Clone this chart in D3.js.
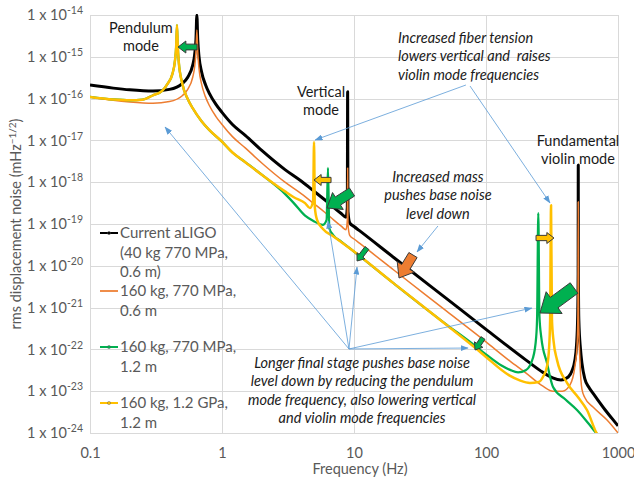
<!DOCTYPE html>
<html>
<head>
<meta charset="utf-8">
<script src="https://cdn.jsdelivr.net/npm/d3@7"></script>
<style>
  body { margin: 0; background: #fff; }
  svg text { font-family: Lato, "Open Sans", sans-serif; }
</style>
</head>
<body>
<svg id="chart" width="634" height="477"></svg>
<script>
// ---- data ----
const xTicks = [0.1, 1, 10, 100, 1000];
const xTickLabels = ["0.1", "1", "10", "100", "1000"];
const yTicks = [1e-14, 1e-15, 1e-16, 1e-17, 1e-18, 1e-19, 1e-20, 1e-21, 1e-22, 1e-23, 1e-24];
const yExponents = ["-14", "-15", "-16", "-17", "-18", "-19", "-20", "-21", "-22", "-23", "-24"];

const seriesNames = [
  ["Current aLIGO", "(40 kg 770 MPa,", "0.6 m)"],
  ["160 kg, 770 MPa,", "0.6 m"],
  ["160 kg, 770 MPa,", "1.2 m"],
  ["160 kg, 1.2 GPa,", "1.2 m"]
];

// [frequency Hz, rms displacement noise]
const currentAligo = [
  [0.1, 2.11e-16], [0.15, 1.78e-16], [0.2, 1.62e-16], [0.3, 1.51e-16], [0.4, 1.66e-16],
  [0.5, 2.29e-16], [0.55, 3.24e-16], [0.6, 6.31e-16], [0.62, 1.10e-15], [0.635, 2.63e-15],
  [0.645, 1.0e-14], [0.655, 2.57e-15], [0.67, 1.0e-15], [0.7, 4.37e-16], [0.75, 2.14e-16],
  [0.8, 1.35e-16], [0.9, 7.24e-17], [1, 4.68e-17], [1.2, 2.40e-17], [1.5, 1.32e-17],
  [2, 5.75e-18], [3, 2.0e-18], [4, 1.05e-18], [5, 6.03e-19], [6, 3.80e-19], [7, 2.51e-19],
  [8, 1.78e-19], [8.7, 1.45e-19], [8.9, 2.51e-19], [8.95, 1.45e-16], [9.0, 2.0e-19],
  [9.3, 1.05e-19], [10, 8.71e-20], [11, 6.92e-20], [20, 1.58e-20], [50, 1.66e-21],
  [100, 3.02e-22], [200, 5.62e-23], [270, 2.82e-23], [320, 2.09e-23], [370, 1.86e-23],
  [420, 2.19e-23], [450, 3.16e-23], [470, 5.25e-23], [485, 1.26e-22], [495, 6.31e-22],
  [499, 6.31e-21], [500, 2.57e-18], [501, 6.31e-21], [505, 5.01e-22], [520, 1.0e-22],
  [533, 4.68e-23], [560, 2.0e-23], [600, 1.26e-23], [650, 8.71e-24], [700, 6.31e-24],
  [800, 3.55e-24], [900, 2.24e-24], [1000, 1.48e-24]
];

const mass160Short = [
  [0.1, 1.10e-16], [0.15, 9.12e-17], [0.2, 8.32e-17], [0.3, 7.76e-17], [0.4, 8.51e-17],
  [0.5, 1.17e-16], [0.55, 1.66e-16], [0.6, 3.24e-16], [0.62, 5.62e-16], [0.635, 1.35e-15],
  [0.645, 4.37e-15], [0.655, 1.32e-15], [0.67, 5.13e-16], [0.7, 2.24e-16], [0.75, 1.10e-16],
  [0.8, 6.92e-17], [0.9, 3.72e-17], [1, 2.40e-17], [1.2, 1.23e-17], [1.5, 6.61e-18],
  [2, 2.88e-18], [3, 1.0e-18], [4, 5.25e-19], [5, 3.02e-19], [6, 1.91e-19], [7, 1.26e-19],
  [8, 8.91e-20], [8.7, 7.24e-20], [8.9, 1.26e-19], [8.95, 2.19e-18], [9.0, 1.0e-19],
  [9.3, 5.25e-20], [10, 4.37e-20], [11, 3.47e-20], [20, 7.94e-21], [50, 8.32e-22],
  [100, 1.51e-22], [152, 5.25e-23], [200, 2.75e-23], [270, 1.32e-23], [322, 1.0e-23],
  [380, 1.0e-23], [433, 1.41e-23], [472, 3.98e-23], [490, 1.26e-22], [497, 7.94e-22],
  [500, 3.39e-19], [503, 6.31e-22], [515, 5.01e-23], [533, 1.12e-23], [560, 7.08e-24],
  [647, 4.17e-24], [826, 2.04e-24], [1000, 1.0e-24]
];

const mass160Long = [
  [0.1, 1.10e-16], [0.15, 9.55e-17], [0.2, 9.12e-17], [0.25, 9.44e-17], [0.3, 1.20e-16],
  [0.35, 1.51e-16], [0.39, 2.34e-16], [0.42, 3.80e-16], [0.44, 7.94e-16], [0.45, 1.86e-15],
  [0.456, 5.75e-15], [0.462, 1.86e-15], [0.47, 7.76e-16], [0.5, 2.29e-16], [0.55, 9.77e-17],
  [0.6, 5.89e-17], [0.7, 2.88e-17], [0.8, 1.78e-17], [1, 9.33e-18], [1.2, 5.13e-18],
  [1.5, 3.02e-18], [2, 1.51e-18], [3, 5.25e-19], [3.5, 3.16e-19], [4.26, 1.58e-19],
  [5, 1.15e-19], [5.8, 9.55e-20], [6.2, 1.26e-19], [6.35, 2.19e-18], [6.5, 7.94e-20],
  [6.93, 5.50e-20], [8, 3.80e-20], [10, 2.19e-20], [20, 3.80e-21], [50, 3.98e-22],
  [80, 1.32e-22], [100, 7.59e-23], [130, 4.17e-23], [152, 3.24e-23], [175, 2.82e-23],
  [200, 3.16e-23], [227, 6.31e-23], [240, 2.0e-22], [244, 6.31e-22], [249, 1.82e-19],
  [254, 6.31e-22], [262, 2.0e-22], [290, 4.68e-23], [322, 1.26e-23], [400, 6.31e-24],
  [489, 3.55e-24], [600, 1.66e-24], [693, 9.55e-25], [720, 8.5e-25]
];

const mass160LongStrong = [
  [0.1, 1.10e-16], [0.15, 9.55e-17], [0.2, 9.12e-17], [0.25, 9.44e-17], [0.3, 1.20e-16],
  [0.35, 1.51e-16], [0.39, 2.34e-16], [0.42, 3.80e-16], [0.44, 7.94e-16], [0.45, 1.86e-15],
  [0.456, 5.75e-15], [0.462, 1.86e-15], [0.47, 7.76e-16], [0.5, 2.29e-16], [0.55, 9.77e-17],
  [0.6, 5.89e-17], [0.7, 2.88e-17], [0.8, 1.78e-17], [1, 9.33e-18], [1.2, 5.13e-18],
  [1.5, 3.02e-18], [2, 1.51e-18], [3, 6.03e-19], [3.5, 4.37e-19], [4.26, 3.16e-19],
  [4.64, 2.40e-19], [4.9, 3.55e-19], [4.98, 9.12e-18], [5.05, 2.51e-19], [5.25, 1.26e-19],
  [5.82, 7.59e-20], [7, 5.01e-20], [10, 2.19e-20], [20, 3.80e-21], [50, 3.89e-22],
  [85, 1.02e-22], [100, 6.61e-23], [150, 2.40e-23], [180, 1.82e-23], [215, 1.58e-23],
  [250, 1.66e-23], [270, 2.19e-23], [290, 3.98e-23], [300, 1.0e-22], [306, 5.01e-22],
  [311, 2.82e-19], [316, 5.01e-22], [325, 1.58e-22], [345, 5.62e-23], [411, 1.58e-23],
  [500, 7.08e-24], [582, 3.55e-24], [693, 9.55e-25], [720, 8.0e-25]
];

const allSeries = [currentAligo, mass160Short, mass160Long, mass160LongStrong];
const colors = ["#000000", "#ED7D31", "#00B050", "#FFC000"];
const widths = [3, 1.5, 2.25, 2.5];

// ---- layout ----
const svg = d3.select("#chart");
const plotLeft = 90, plotRight = 618, plotTop = 15, plotBottom = 433;

const x = d3.scaleLog().domain([0.1, 1000]).range([plotLeft, plotRight]);
const y = d3.scaleLog().domain([1e-24, 1e-14]).range([plotBottom, plotTop]);

// position given as [log10 f, log10 noise]
const at = (p) => [x(10 ** p[0]), y(10 ** p[1])];

const defs = svg.append("defs");
defs.append("clipPath").attr("id", "plotclip")
  .append("rect").attr("x", plotLeft).attr("y", plotTop - 1)
  .attr("width", plotRight - plotLeft).attr("height", plotBottom - plotTop + 1);

defs.append("marker")
  .attr("id", "tip").attr("markerUnits", "userSpaceOnUse")
  .attr("markerWidth", 8).attr("markerHeight", 6)
  .attr("refX", 7.5).attr("refY", 3).attr("orient", "auto")
  .append("path").attr("d", "M0,0 L8,3 L0,6 z").attr("fill", "#5B9BD5");

// gridlines
const grid = svg.append("g").attr("stroke", "#d9d9d9").attr("stroke-width", 1);
yTicks.forEach(t => {
  grid.append("line").attr("x1", plotLeft).attr("x2", plotRight)
    .attr("y1", Math.round(y(t)) + 0.5).attr("y2", Math.round(y(t)) + 0.5);
});
xTicks.forEach(t => {
  grid.append("line").attr("y1", plotTop).attr("y2", plotBottom)
    .attr("x1", Math.round(x(t)) + 0.5).attr("x2", Math.round(x(t)) + 0.5);
});

// axes
const xAxis = svg.append("g")
  .attr("transform", `translate(0,${plotBottom})`)
  .call(d3.axisBottom(x).tickValues(xTicks).tickSize(0).tickPadding(15)
    .tickFormat((d, i) => xTickLabels[i]));
xAxis.select(".domain").remove();
xAxis.selectAll("text").attr("font-size", 14.5).attr("fill", "#595959")
  .attr("font-family", "Lato, sans-serif");

const yAxis = svg.append("g")
  .attr("transform", `translate(${plotLeft},0)`)
  .call(d3.axisLeft(y).tickValues(yTicks).tickSize(0).tickPadding(7).tickFormat(() => ""));
yAxis.select(".domain").remove();
yAxis.selectAll(".tick text").each(function (d, i) {
  const t = d3.select(this).attr("font-size", 14.5).attr("fill", "#595959")
    .attr("font-family", "Lato, sans-serif");
  t.append("tspan").text("1 x 10");
  t.append("tspan").attr("dy", -6).attr("font-size", 10.5).text(yExponents[i]);
});

svg.append("text")
  .attr("x", (plotLeft + plotRight) / 2 + 6).attr("y", 474)
  .attr("text-anchor", "middle").attr("font-size", 14.5).attr("fill", "#595959")
  .text("Frequency (Hz)");

const yTitle = svg.append("text")
  .attr("transform", `translate(21,${(plotTop + plotBottom) / 2}) rotate(-90)`)
  .attr("text-anchor", "middle").attr("font-size", 14.5).attr("fill", "#595959");
yTitle.append("tspan").text("rms displacement noise (mHz");
yTitle.append("tspan").attr("dy", -5).attr("font-size", 10).text("\u22121/2");
yTitle.append("tspan").attr("dy", 5).text(")");

// curves
const line = d3.line()
  .x(d => x(d[0]))
  .y(d => y(d[1]))
  .curve(d3.curveMonotoneX);

const plot = svg.append("g").attr("clip-path", "url(#plotclip)");
allSeries.forEach((s, i) => {
  plot.append("path")
    .attr("d", line(s))
    .attr("fill", "none")
    .attr("stroke", colors[i])
    .attr("stroke-width", widths[i])
    .attr("stroke-linejoin", "round");
});

// legend
const legendY = [233, 291, 347, 403];
const legend = svg.append("g");
seriesNames.forEach((lines, i) => {
  legend.append("line").attr("x1", 100).attr("x2", 118)
    .attr("y1", legendY[i]).attr("y2", legendY[i])
    .attr("stroke", colors[i]).attr("stroke-width", i === 1 ? 1.75 : 2);
  if (i !== 1) {
    legend.append("circle").attr("cx", 109).attr("cy", legendY[i]).attr("r", 1.6)
      .attr("fill", i === 0 ? "#000" : colors[i]).attr("stroke", "#555").attr("stroke-width", 0.4);
  }
  lines.forEach((l, j) => {
    legend.append("text").attr("x", 120).attr("y", legendY[i] + j * 19.5)
      .attr("dy", "0.35em").attr("font-size", 15).attr("fill", "#595959").text(l);
  });
});

// annotations
const textNotes = [
  { lines: ["Pendulum", "mode"], pos: [-0.614, -14.311], italic: false, anchor: "middle" },
  { lines: ["Vertical", "mode"], pos: [0.75, -15.842], italic: false, anchor: "middle" },
  { lines: ["Increased fiber tension", "lowers vertical and  raises", "violin mode frequencies"],
    pos: [1.333, -14.55], italic: true, anchor: "start" },
  { lines: ["Increased mass", "pushes base noise", "level down"], pos: [1.636, -17.876], italic: true, anchor: "middle" },
  { lines: ["Fundamental", "violin mode"], pos: [2.697, -17.014], italic: false, anchor: "middle" },
  { lines: ["Longer final stage pushes base noise", "level down by reducing the pendulum",
    "mode frequency, also lowering vertical", "and violin mode frequencies"],
    pos: [1.061, -22.325], italic: true, anchor: "middle" }
];

const pointerLines = [
  [[1.848, -15.675], [0.705, -16.99]],
  [[1.879, -15.699], [2.485, -18.498]],
  [[1.636, -19.048], [1.477, -19.67]],
  [[0.962, -21.99], [-0.432, -16.679]],
  [[0.962, -21.99], [0.803, -18.928]],
  [[0.962, -21.99], [1.023, -20.029]],
  [[0.962, -21.99], [1.864, -21.967]],
  [[0.962, -21.99], [2.348, -21.01]]
];

const blockArrows = [
  { tail: [-0.189, -14.766], tip: [-0.333, -14.766], w: 12, fill: "#00B050" },
  { tail: [0.826, -17.947], tip: [0.697, -17.947], w: 11, fill: "#FFC000" },
  { tail: [0.985, -18.234], tip: [0.795, -18.617], w: 20, fill: "#00B050" },
  { tail: [1.098, -19.574], tip: [1.023, -19.885], w: 10, fill: "#00B050" },
  { tail: [1.447, -19.742], tip: [1.341, -20.292], w: 20, fill: "#ED7D31" },
  { tail: [1.977, -21.727], tip: [1.917, -22.014], w: 10, fill: "#00B050" },
  { tail: [2.379, -19.335], tip: [2.515, -19.335], w: 11, fill: "#FFC000" },
  { tail: [2.667, -20.531], tip: [2.409, -21.129], w: 27, fill: "#00B050" }
];

const notes = svg.append("g");
pointerLines.forEach(([a, b]) => {
  const p = at(a), q = at(b);
  notes.append("line").attr("x1", p[0]).attr("y1", p[1]).attr("x2", q[0]).attr("y2", q[1])
    .attr("stroke", "#5B9BD5").attr("stroke-width", 0.8).attr("marker-end", "url(#tip)");
});

function arrowShape(tail, tip, w) {
  const dx = tip[0] - tail[0], dy = tip[1] - tail[1];
  const len = Math.hypot(dx, dy);
  const ux = dx / len, uy = dy / len, nx = -uy, ny = ux;
  const head = Math.min(len * 0.55, w * 0.65);
  const sw = w * 0.24, hw = w * 0.5;
  const bx = tip[0] - ux * head, by = tip[1] - uy * head;
  return [
    [tail[0] + nx * sw, tail[1] + ny * sw],
    [bx + nx * sw, by + ny * sw],
    [bx + nx * hw, by + ny * hw],
    tip,
    [bx - nx * hw, by - ny * hw],
    [bx - nx * sw, by - ny * sw],
    [tail[0] - nx * sw, tail[1] - ny * sw]
  ];
}

blockArrows.forEach(a => {
  const pts = arrowShape(at(a.tail), at(a.tip), a.w);
  notes.append("polygon")
    .attr("points", pts.map(p => p.join(",")).join(" "))
    .attr("fill", a.fill).attr("stroke", "#3a3a3a").attr("stroke-width", 1)
    .attr("stroke-linejoin", "miter");
});

textNotes.forEach(n => {
  const p = at(n.pos);
  const t = notes.append("text")
    .attr("text-anchor", n.anchor).attr("font-size", 14.5).attr("fill", "#1a1a1a")
    .attr("font-style", n.italic ? "italic" : "normal")
    .attr("xml:space", "preserve");
  n.lines.forEach((l, j) => {
    t.append("tspan").attr("x", p[0]).attr("y", p[1] + j * 18.3).attr("dy", "0.35em").text(l);
  });
});
</script>
</body>
</html>
